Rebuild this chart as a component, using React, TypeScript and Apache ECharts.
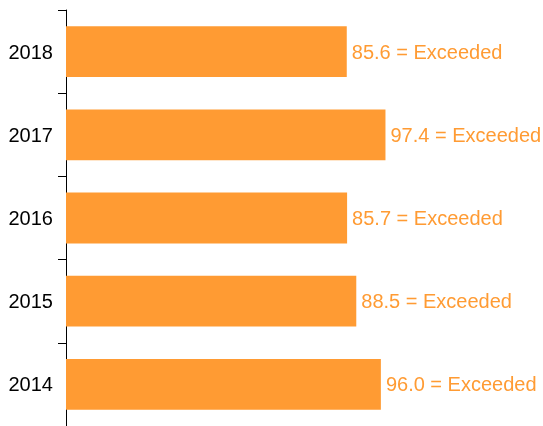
import React, { useEffect, useRef } from "react";
import * as echarts from "echarts";

const categories = ["2014", "2015", "2016", "2017", "2018"];
const values = [96.0, 88.5, 85.7, 97.4, 85.6];
const status = ["Exceeded", "Exceeded", "Exceeded", "Exceeded", "Exceeded"];

export default function App() {
  const ref = useRef<HTMLDivElement>(null);
  useEffect(() => {
    if (!ref.current) return;
    const chart = echarts.init(ref.current, null, { renderer: "svg" });
    chart.setOption({
      animation: false,
      grid: { left: 66, top: 10, width: 328, height: 419 },
      xAxis: { type: "value", min: 0, max: 100, show: false },
      yAxis: {
        type: "category",
        data: categories,
        axisLine: { show: true, lineStyle: { color: "#000", width: 1 } },
        axisTick: { show: true, length: 8, lineStyle: { color: "#000" } },
        axisLabel: { color: "#000", fontSize: 20, fontFamily: "Liberation Sans, Arial, sans-serif", margin: 13 },
      },
      series: [
        {
          type: "bar",
          data: values,
          barWidth: "61%",
          itemStyle: { color: "#FF9B33" },
          label: {
            show: true,
            position: "right",
            distance: 5,
            color: "#FF9B33",
            fontSize: 20,
            fontFamily: "Liberation Sans, Arial, sans-serif",
            formatter: (p: any) => `${p.value.toFixed(1)} = ${status[p.dataIndex]}`,
          },
        },
      ],
    });
    return () => chart.dispose();
  }, []);
  return <div ref={ref} style={{ position: "fixed", left: 0, top: 0, width: 543, height: 426 }} />;
}
